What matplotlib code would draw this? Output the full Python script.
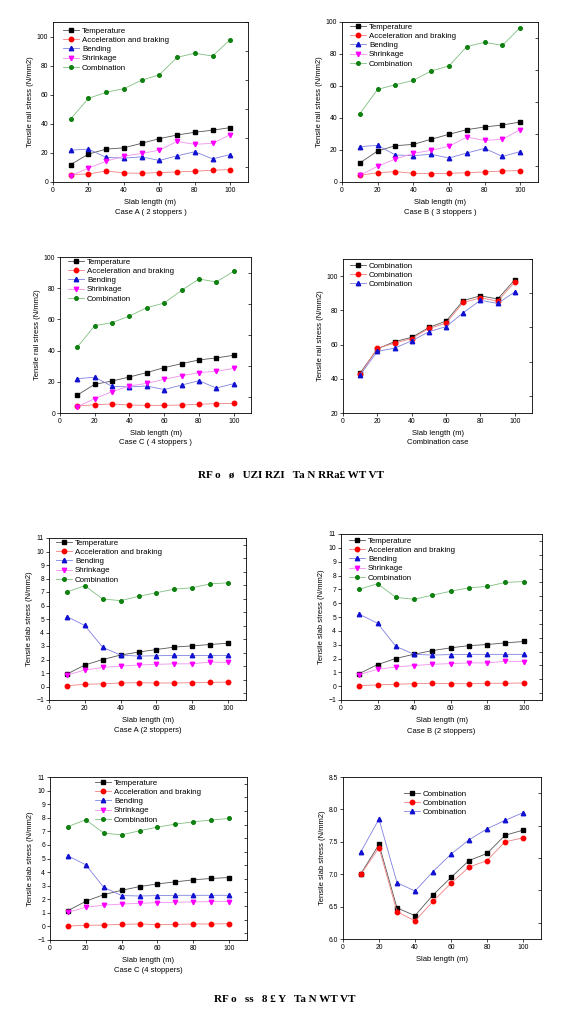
import matplotlib
matplotlib.use("Agg")
import matplotlib.pyplot as plt
from matplotlib.ticker import MultipleLocator

plt.rcParams['font.family'] = ['Liberation Sans', 'DejaVu Sans']

x = [10, 20, 30, 40, 50, 60, 70, 80, 90, 100]
names = ["Temperature", "Acceleration and braking", "Bending", "Shrinkage", "Combination"]

# rail stress (N/mm2)
railA_temp = [12.0, 19.2, 22.6, 23.5, 26.6, 29.8, 32.3, 34.2, 35.6, 37.4]
railA_acc = [5.1, 5.5, 7.6, 6.2, 6.0, 6.5, 6.9, 7.4, 8.1, 8.5]
railA_bend = [21.9, 22.6, 16.9, 16.4, 17.3, 14.8, 18.0, 20.8, 15.9, 18.9]
railA_shr = [4.4, 9.5, 14.3, 17.8, 19.6, 21.9, 27.9, 25.9, 26.6, 32.6]
railA_comb = [43.4, 57.5, 61.7, 64.2, 70.0, 73.7, 85.7, 88.5, 86.6, 97.9]

railB_temp = [11.9, 19.4, 22.7, 23.5, 26.7, 29.8, 32.7, 34.4, 35.6, 37.5]
railB_acc = [4.2, 5.8, 6.5, 5.4, 5.2, 5.4, 5.8, 6.3, 6.9, 7.1]
railB_bend = [22.1, 22.9, 16.9, 16.5, 17.3, 15.0, 18.1, 21.0, 16.0, 19.0]
railB_shr = [4.2, 9.8, 14.4, 17.9, 19.8, 22.3, 28.1, 26.0, 26.7, 32.7]
railB_comb = [42.7, 57.9, 60.8, 63.5, 69.4, 72.5, 84.6, 87.3, 85.4, 96.5]

railC_temp = [11.5, 18.4, 20.5, 23.1, 25.9, 29.1, 31.6, 34.0, 35.3, 37.0]
railC_acc = [4.5, 5.3, 5.8, 5.1, 4.9, 4.9, 5.1, 5.6, 6.0, 6.2]
railC_bend = [22.0, 22.9, 17.1, 16.7, 17.3, 15.0, 17.9, 20.7, 16.0, 18.8]
railC_shr = [4.1, 9.2, 13.7, 17.3, 19.0, 21.6, 23.9, 25.9, 26.7, 28.6]
railC_comb = [42.3, 56.0, 57.9, 62.2, 67.5, 70.5, 78.6, 85.9, 84.0, 90.8]

# slab stress (N/mm2)
slabA_temp = [0.92, 1.59, 2.00, 2.33, 2.55, 2.74, 2.92, 3.01, 3.11, 3.21]
slabA_acc = [0.06, 0.16, 0.20, 0.26, 0.28, 0.26, 0.26, 0.28, 0.30, 0.33]
slabA_bend = [5.18, 4.52, 2.90, 2.33, 2.25, 2.28, 2.30, 2.30, 2.30, 2.30]
slabA_shr = [0.85, 1.22, 1.41, 1.51, 1.59, 1.64, 1.68, 1.68, 1.81, 1.78]
slabA_comb = [7.01, 7.46, 6.48, 6.36, 6.68, 6.95, 7.21, 7.32, 7.60, 7.68]

slabB_temp = [0.91, 1.56, 2.00, 2.31, 2.57, 2.77, 2.93, 3.01, 3.13, 3.23]
slabB_acc = [0.04, 0.09, 0.14, 0.18, 0.21, 0.18, 0.18, 0.21, 0.21, 0.23]
slabB_bend = [5.20, 4.55, 2.88, 2.30, 2.25, 2.28, 2.30, 2.30, 2.30, 2.30]
slabB_shr = [0.84, 1.22, 1.39, 1.49, 1.58, 1.63, 1.68, 1.68, 1.80, 1.78]
slabB_comb = [7.00, 7.41, 6.42, 6.28, 6.58, 6.86, 7.11, 7.21, 7.50, 7.56]

slabC_temp = [1.16, 1.85, 2.34, 2.66, 2.93, 3.13, 3.28, 3.43, 3.53, 3.60]
slabC_acc = [0.03, 0.08, 0.10, 0.15, 0.18, 0.13, 0.15, 0.18, 0.18, 0.20]
slabC_bend = [5.20, 4.53, 2.88, 2.27, 2.24, 2.27, 2.29, 2.29, 2.29, 2.29]
slabC_shr = [1.04, 1.41, 1.56, 1.65, 1.70, 1.75, 1.78, 1.80, 1.83, 1.83]
slabC_comb = [7.35, 7.85, 6.87, 6.74, 7.04, 7.31, 7.53, 7.70, 7.83, 7.95]

styles = [
    dict(marker='s', mfc='black', mec='black', color='#555555'),
    dict(marker='o', mfc='red', mec='red', color='#f08080'),
    dict(marker='^', mfc='#1010d0', mec='#1010d0', color='#8080e0'),
    dict(marker='v', mfc='#ff00ff', mec='#ff00ff', color='#f090f0'),
    dict(marker=(8, 1, 0), mfc='#108010', mec='#108010', color='#80c080'),
]

W, H = 582, 1029
fig = plt.figure(figsize=(W / 100, H / 100), dpi=100)


def make_ax(l, t, r, b):
    return fig.add_axes([l / W, 1 - b / H, (r - l) / W, (b - t) / H])


def style_ax(ax, ylim, ymaj, ylabel, xlabel, case):
    ax.set_xlim(0, 110)
    ax.set_ylim(*ylim)
    ax.xaxis.set_major_locator(MultipleLocator(20))
    ax.yaxis.set_major_locator(MultipleLocator(ymaj))
    ax.yaxis.set_minor_locator(MultipleLocator(ymaj / 2))
    ax.tick_params(which='major', direction='out', length=2, width=0.5,
                   labelsize=4.9, pad=1.5)
    ax.tick_params(which='minor', left=False, right=True, direction='in',
                   length=2, width=0.5)
    for s in ax.spines.values():
        s.set_linewidth(0.6)
    ax.set_ylabel(ylabel, fontsize=5.5, labelpad=2)
    ax.set_xlabel(xlabel, fontsize=5.5, labelpad=3.5)
    if case:
        ax.text(0.5, -0.19, case, transform=ax.transAxes, ha='center',
                va='center', fontsize=5.5)


def legend_at(ax, fx, fy):
    ax.legend(loc='upper left', bbox_to_anchor=(fx / W, 1 - fy / H),
              bbox_transform=fig.transFigure, frameon=False, fontsize=5.7,
              handlelength=2.0, handletextpad=0.4, labelspacing=0.22,
              borderpad=0, borderaxespad=0)


def plot_set(ax, series):
    for st, nm, y in zip(styles, names, series):
        ax.plot(x, y, lw=0.6, ms=3.2, label=nm, **st)


rail_lab = "Tensile rail stress (N/mm2)"
slab_lab = "Tensile slab stress (N/mm2)"
xl = "Slab length (m)"

ax1 = make_ax(53, 22, 248, 182)
plot_set(ax1, [railA_temp, railA_acc, railA_bend, railA_shr, railA_comb])
style_ax(ax1, (0, 110), 20, rail_lab, xl, "Case A ( 2 stoppers )")
legend_at(ax1, 63, 27)

ax2 = make_ax(342, 22, 538, 182)
plot_set(ax2, [railB_temp, railB_acc, railB_bend, railB_shr, railB_comb])
style_ax(ax2, (0, 100), 20, rail_lab, xl, "Case B ( 3 stoppers )")
legend_at(ax2, 350, 23)

ax3 = make_ax(60, 257, 251, 413)
plot_set(ax3, [railC_temp, railC_acc, railC_bend, railC_shr, railC_comb])
style_ax(ax3, (0, 100), 20, rail_lab, xl, "Case C ( 4 stoppers )")
legend_at(ax3, 68, 258)

ax4 = make_ax(343, 259, 532, 413)
for st, y in zip(styles[:3], [railA_comb, railB_comb, railC_comb]):
    ax4.plot(x, y, lw=0.6, ms=3.2, label="Combination", **st)
style_ax(ax4, (20, 110), 20, rail_lab, xl, "Combination case")
legend_at(ax4, 350, 262)

ax5 = make_ax(49, 538, 246, 700)
plot_set(ax5, [slabA_temp, slabA_acc, slabA_bend, slabA_shr, slabA_comb])
style_ax(ax5, (-1, 11), 1, slab_lab, xl, "Case A (2 stoppers)")
legend_at(ax5, 56, 539)

ax6 = make_ax(341, 534, 542, 700)
plot_set(ax6, [slabB_temp, slabB_acc, slabB_bend, slabB_shr, slabB_comb])
style_ax(ax6, (-1, 11), 1, slab_lab, xl, "Case B (2 stoppers)")
legend_at(ax6, 349, 537)

ax7 = make_ax(50, 777, 247, 940)
plot_set(ax7, [slabC_temp, slabC_acc, slabC_bend, slabC_shr, slabC_comb])
style_ax(ax7, (-1, 11), 1, slab_lab, xl, "Case C (4 stoppers)")
legend_at(ax7, 95, 779)

ax8 = make_ax(343, 777, 541, 939)
for st, y in zip(styles[:3], [slabA_comb, slabB_comb, slabC_comb]):
    ax8.plot(x, y, lw=0.6, ms=3.2, label="Combination", **st)
style_ax(ax8, (6.0, 8.5), 0.5, slab_lab, xl, None)
legend_at(ax8, 404, 790)

fig.text(0.5, 1 - 475 / H, "RF o   ø   UZI RZI   Ta N RRa£ WT VT",
         ha='center', va='center', fontsize=8, fontweight='bold',
         family=['Liberation Serif', 'DejaVu Serif'])
fig.text(0.49, 1 - 1000 / H, "RF o   ss   8 £ Y   Ta N WT VT",
         ha='center', va='center', fontsize=8, fontweight='bold',
         family=['Liberation Serif', 'DejaVu Serif'])

fig.savefig("out.png", dpi=100)
